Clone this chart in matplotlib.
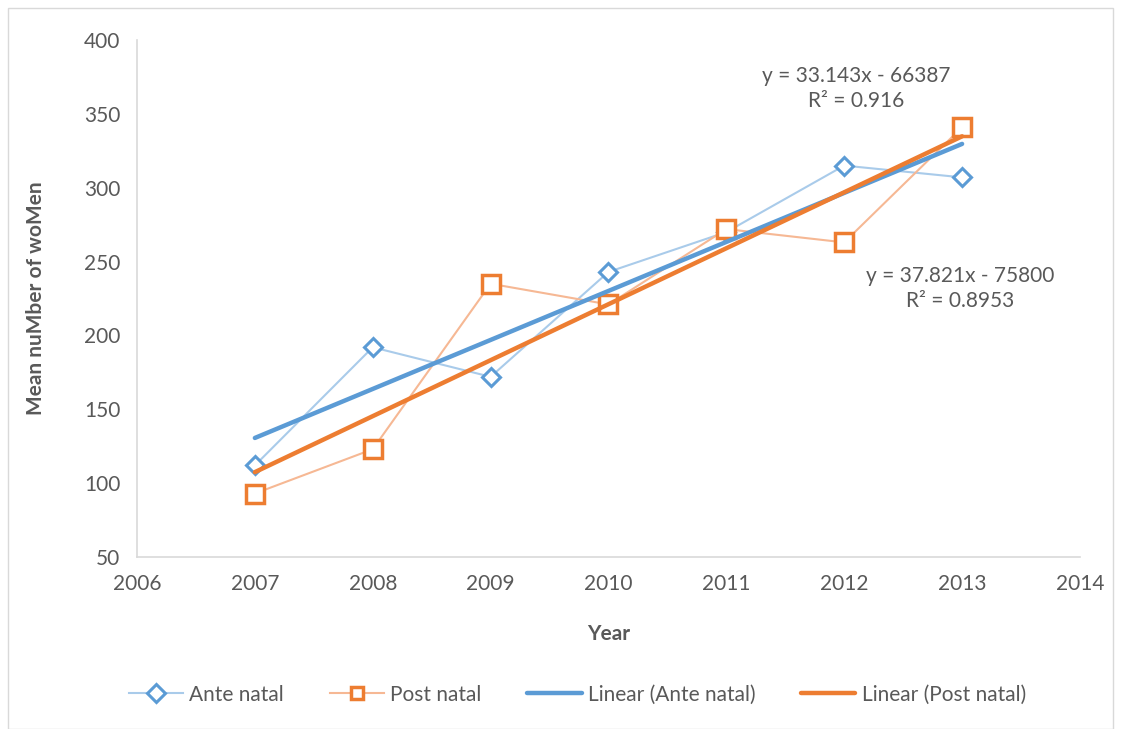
import numpy as np
import matplotlib.pyplot as plt
from matplotlib.patches import Rectangle

plt.rcParams['font.family'] = ['Lato', 'DejaVu Sans']

years = [2007, 2008, 2009, 2010, 2011, 2012, 2013]
ante_natal = [112, 192, 172, 243, 270, 315, 307]
post_natal = [93, 123, 235, 221, 272, 263, 341]

ante_eq = 'y = 33.143x - 66387\nR² = 0.916'
post_eq = 'y = 37.821x - 75800\nR² = 0.8953'

blue = '#5B9BD5'
orange = '#ED7D31'
text_col = '#595959'

fig = plt.figure(figsize=(11.21, 7.29), dpi=100)
ax = fig.add_axes([0.1222, 0.2359, 0.8412, 0.7092])

fig.patches.append(Rectangle((0.007, 0.0), 0.986, 0.989, transform=fig.transFigure,
                             fill=False, edgecolor='#D9D9D9', linewidth=1))

x = np.array(years)
ax.plot(x, ante_natal, color='#A9CBEA', lw=1.5, marker='D', markersize=9,
        markerfacecolor='white', markeredgecolor=blue, markeredgewidth=2.2,
        label='Ante natal', zorder=3)
ax.plot(x, post_natal, color='#F6B894', lw=1.5, marker='s', markersize=13,
        markerfacecolor='white', markeredgecolor=orange, markeredgewidth=2.5,
        label='Post natal', zorder=3)

# linear trend lines
p_ante = np.polyfit(x, ante_natal, 1)
p_post = np.polyfit(x, post_natal, 1)
ax.plot(x[[0, -1]], np.polyval(p_ante, x[[0, -1]]), color=blue, lw=3.2,
        solid_capstyle='round', label='Linear (Ante natal)', zorder=4)
ax.plot(x[[0, -1]], np.polyval(p_post, x[[0, -1]]), color=orange, lw=3.2,
        solid_capstyle='round', label='Linear (Post natal)', zorder=4)

ax.text(2012.1, 367, ante_eq, ha='center', va='center', fontsize=15,
        color=text_col, linespacing=1.3)
ax.text(2012.98, 232, post_eq, ha='center', va='center', fontsize=15,
        color=text_col, linespacing=1.3)

ax.set_xlim(2006, 2014)
ax.set_ylim(50, 400)
ax.set_xticks(range(2006, 2015))
ax.set_yticks(range(50, 401, 50))
ax.tick_params(length=0, labelsize=15, labelcolor=text_col, pad=12)
for s in ['top', 'right']:
    ax.spines[s].set_visible(False)
for s in ['left', 'bottom']:
    ax.spines[s].set_color('#D9D9D9')
    ax.spines[s].set_linewidth(1.2)

ax.set_xlabel('Year', fontsize=15, fontweight='bold', color=text_col, labelpad=22)
ax.set_ylabel('Mean nuMber of woMen', fontsize=15, fontweight='bold', color=text_col, labelpad=27)

leg = fig.legend(loc='center', bbox_to_anchor=(0.515, 0.047), ncol=4, frameon=False,
                 fontsize=15, handlelength=2.6, columnspacing=2.2, handletextpad=0.3)
for t in leg.get_texts():
    t.set_color(text_col)
for h in leg.legend_handles[:2]:
    h.set_markersize(9)

fig.savefig('out.png', dpi=100)
